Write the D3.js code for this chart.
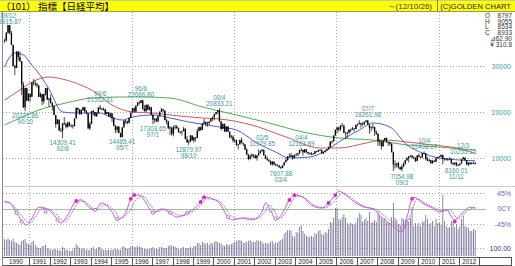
<!DOCTYPE html>
<html>
<head>
<meta charset="utf-8">
<script src="https://cdn.jsdelivr.net/npm/d3@7"></script>
<style>
body { margin: 0; background: #fff; }
svg { display: block; }
text { font-family: "Liberation Sans", Arial, sans-serif; }
</style>
</head>
<body>
<svg width="515" height="266"></svg>
<script>
// monthly candles, first one is 1989/10, last one 2012/10 (to 12/10/26)
var firstMonth = "1989/10";

var opens = [
  35637, 35549, 37269,
  38916, 37189, 34592, 29980, 29585, 33131, 31940, 31036, 25978, 20984, 25194, 22455,
  23849, 23293, 26409, 26292, 26111, 25790, 23291, 23901, 22335, 23916, 25222, 22688,
  22984, 22023, 21339, 19346, 17391, 18348, 15952, 15910, 17555, 17399, 16767, 17683,
  16925, 17024, 16953, 18591, 20919, 20552, 19590, 20380, 21027, 20106, 19703, 16408,
  17417, 20229, 19997, 19112, 19725, 20974, 20644, 20462, 20629, 19563, 19990, 19076,
  19723, 18650, 17054, 16140, 16807, 15437, 14517, 16678, 18117, 17913, 17655, 18744,
  19868, 20813, 20125, 21407, 22041, 21956, 22531, 20693, 20167, 21556, 20467, 21020,
  19361, 18330, 18557, 18003, 19151, 20069, 20605, 20331, 18229, 17888, 16459, 16636,
  15259, 16628, 16831, 16527, 15641, 15671, 15830, 16379, 14108, 13406, 13565, 14883,
  13842, 14499, 14368, 15837, 16702, 16112, 17530, 17862, 17437, 17606, 17942, 18558,
  18934, 19540, 19960, 20337, 17974, 16332, 17411, 15728, 16861, 15747, 14540, 14649,
  13786, 13844, 12884, 12999, 13934, 13262, 12969, 11861, 10714, 9775, 10367, 10697,
  10543, 9998, 10588, 11025, 11493, 11764, 10622, 9877, 9619, 9383, 8640, 9216,
  8579, 8340, 8363, 7973, 7831, 8425, 9083, 9563, 10344, 10219, 10560, 10101,
  10677, 10784, 11042, 11715, 11762, 11236, 11859, 11326, 11082, 10824, 10771, 10899,
  11489, 11388, 11741, 11669, 11009, 11277, 11584, 11900, 12414, 13574, 13607, 14872,
  16111, 16650, 16205, 17060, 16907, 15467, 15505, 15457, 16141, 16128, 16399, 16274,
  17226, 17383, 17604, 17288, 17400, 17876, 18138, 17249, 16569, 16786, 16738, 15681,
  15308, 13592, 13603, 12526, 13850, 14339, 13482, 13377, 13073, 11260, 8577, 8512,
  8860, 7994, 7568, 8110, 8828, 9523, 9958, 10357, 10493, 10133, 10035, 9346,
  10546, 10198, 10126, 11090, 11057, 9769, 9383, 9537, 8824, 9369, 9202, 9937,
  10229, 10238, 10624, 9755, 9850, 9694, 9816, 9833, 8955, 8700, 8988, 8435,
  8455, 8803, 9723, 10084, 9521, 8543, 9007, 8695, 8840, 8797
];
var highs = [
  35950, 37270, 38916,
  38712, 37600, 34600, 30250, 33190, 33190, 33170, 31030, 26560, 25200, 25300, 24120,
  24070, 26410, 27150, 26800, 26280, 25800, 24300, 23900, 24000, 25222, 25300, 23000,
  23800, 22100, 21300, 19400, 18500, 18300, 16600, 17560, 18900, 17700, 17880, 17900,
  17400, 17300, 18600, 20919, 20900, 20600, 20600, 21148, 21100, 20400, 19800, 17900,
  20230, 20500, 20000, 19900, 21000, 21553, 20900, 21000, 20600, 20100, 20000, 19800,
  19700, 18900, 17100, 16900, 17000, 15500, 16700, 18200, 18300, 18100, 18750, 19870,
  20900, 21000, 21410, 22200, 22400, 22667, 22600, 21500, 21600, 21700, 21300, 21100,
  19500, 18600, 18700, 19200, 20100, 20900, 20600, 20300, 18500, 18100, 17000, 16700,
  17100, 17200, 17200, 16600, 15900, 15900, 16800, 16400, 14800, 13900, 15000, 14900,
  14500, 14500, 16400, 16800, 16800, 17600, 18500, 17900, 17900, 17950, 18600, 18950,
  19600, 20000, 20400, 20833, 18000, 17500, 17500, 16900, 16900, 15800, 15000, 14900,
  14100, 14000, 13100, 14000, 14500, 13300, 13000, 12100, 10800, 10800, 11000, 10800,
  10800, 10600, 11900, 11700, 11980, 11800, 10700, 10300, 9700, 9400, 9300, 9200,
  8800, 8700, 8500, 8200, 8500, 9100, 10000, 10400, 11000, 11100, 10600, 10700,
  11000, 11100, 11800, 12164, 11800, 11900, 11900, 11300, 11200, 11300, 11100, 11500,
  11500, 11750, 11950, 11900, 11300, 11600, 11900, 12500, 13600, 13800, 14900, 16200,
  16700, 16800, 17100, 17560, 17300, 15600, 15700, 16200, 16400, 16800, 16500, 17226,
  17500, 18200, 17600, 17800, 17900, 18240, 18262, 17300, 16800, 17400, 16800, 16000,
  15300, 14100, 13600, 13900, 14400, 14490, 13600, 13400, 13200, 11400, 9500, 8900,
  9200, 8100, 8600, 9000, 9600, 10200, 10400, 10700, 10600, 10400, 10100, 10600,
  10980, 10400, 11100, 11408, 11000, 10250, 9800, 9600, 9600, 9600, 10100, 10300,
  10500, 10860, 10700, 9850, 10000, 9900, 10140, 9900, 9000, 9050, 9150, 8700,
  8800, 9720, 10255, 10100, 9500, 9010, 9100, 9130, 9230, 9055
];
var lows = [
  34970, 35300, 37000,
  36900, 34590, 29980, 28002, 29600, 31200, 30840, 23740, 20984, 20222, 22455, 22300,
  22230, 23300, 25800, 25600, 25300, 23290, 23100, 21460, 21800, 23600, 22600, 21120,
  21830, 20340, 19346, 16600, 17300, 15950, 15600, 14309, 17200, 16400, 16600, 16900,
  16650, 16400, 16900, 18600, 19900, 19400, 19400, 20200, 19900, 19500, 16400, 16078,
  17400, 19300, 19000, 18900, 19700, 20600, 20400, 20300, 19500, 19500, 19000, 18800,
  17800, 16950, 15400, 15500, 15400, 14500, 14485, 16600, 17400, 17300, 17500, 18700,
  19800, 19900, 19900, 21300, 21600, 21900, 20500, 20100, 20000, 20400, 20300, 19300,
  17304, 17600, 17800, 17700, 19000, 20000, 19900, 18200, 17300, 16300, 15000, 14800,
  14700, 16200, 16300, 15500, 15300, 14900, 15800, 14100, 13300, 12880, 13500, 13800,
  13300, 13600, 14300, 15800, 15900, 16100, 17400, 16900, 16800, 17200, 17900, 18100,
  18200, 19400, 19600, 17900, 16000, 16300, 15700, 15700, 15700, 14300, 14200, 13400,
  13300, 12600, 11820, 12900, 13200, 12600, 11700, 10700, 9500, 9700, 10200, 10000,
  9900, 9420, 10500, 11000, 11400, 10500, 9800, 9400, 9100, 8440, 8300, 8500,
  8300, 8300, 7900, 7608, 7800, 8400, 9100, 9400, 10200, 10200, 9600, 9900,
  10400, 10400, 10900, 11500, 10500, 11100, 11000, 10700, 10800, 10700, 10700, 10900,
  11200, 11300, 11600, 10900, 10850, 11200, 11500, 11800, 12200, 13100, 13600, 14900,
  15300, 15700, 15900, 16700, 15400, 14219, 14400, 15300, 15600, 16100, 15700, 16300,
  16900, 17300, 16600, 17000, 17100, 17700, 17200, 15270, 15800, 16300, 14800, 15000,
  12570, 12700, 11790, 12500, 13600, 13400, 12700, 12600, 11260, 7162, 7700, 7900,
  7700, 7400, 7055, 8000, 8500, 9400, 9050, 10200, 9900, 9700, 9100, 9300,
  10200, 9870, 10100, 10900, 9500, 9380, 9200, 8820, 8800, 9100, 9100, 9900,
  10200, 10200, 8605, 9400, 9450, 9350, 9800, 8620, 8360, 8380, 8160, 8300,
  8380, 8800, 9700, 9440, 8540, 8290, 8490, 8600, 8750, 8534
];
var closes = [
  35549, 37269, 38916,
  37189, 34592, 29980, 29585, 33131, 31940, 31036, 25978, 20984, 25194, 22455, 23849,
  23293, 26409, 26292, 26111, 25790, 23291, 23901, 22335, 23916, 25222, 22688, 22984,
  22023, 21339, 19346, 17391, 18348, 15952, 15910, 17555, 17399, 16767, 17683, 16925,
  17024, 16953, 18591, 20919, 20552, 19590, 20380, 21027, 20106, 19703, 16408, 17417,
  20229, 19997, 19112, 19725, 20974, 20644, 20462, 20629, 19563, 19990, 19076, 19723,
  18650, 17054, 16140, 16807, 15437, 14517, 16678, 18117, 17913, 17655, 18744, 19868,
  20813, 20125, 21407, 22041, 21956, 22531, 20693, 20167, 21556, 20467, 21020, 19361,
  18330, 18557, 18003, 19151, 20069, 20605, 20331, 18229, 17888, 16459, 16636, 15259,
  16628, 16831, 16527, 15641, 15671, 15830, 16379, 14108, 13406, 13565, 14883, 13842,
  14499, 14368, 15837, 16702, 16112, 17530, 17862, 17437, 17606, 17942, 18558, 18934,
  19540, 19960, 20337, 17974, 16332, 17411, 15728, 16861, 15747, 14540, 14649, 13786,
  13844, 12884, 12999, 13934, 13262, 12969, 11861, 10714, 9775, 10367, 10697, 10543,
  9998, 10588, 11025, 11493, 11764, 10622, 9877, 9619, 9383, 8640, 9216, 8579,
  8340, 8363, 7973, 7831, 8425, 9083, 9563, 10344, 10219, 10560, 10101, 10677,
  10784, 11042, 11715, 11762, 11236, 11859, 11326, 11082, 10824, 10771, 10899, 11489,
  11388, 11741, 11669, 11009, 11277, 11584, 11900, 12414, 13574, 13607, 14872, 16111,
  16650, 16205, 17060, 16907, 15467, 15505, 15457, 16141, 16128, 16399, 16274, 17226,
  17383, 17604, 17288, 17400, 17876, 18138, 17249, 16569, 16786, 16738, 15681, 15308,
  13592, 13603, 12526, 13850, 14339, 13482, 13377, 13073, 11260, 8577, 8512, 8860,
  7994, 7568, 8110, 8828, 9523, 9958, 10357, 10493, 10133, 10035, 9346, 10546,
  10198, 10126, 11090, 11057, 9769, 9383, 9537, 8824, 9369, 9202, 9937, 10229,
  10238, 10624, 9755, 9850, 9694, 9816, 9833, 8955, 8700, 8988, 8435, 8455,
  8803, 9723, 10084, 9521, 8543, 9007, 8695, 8840, 8870, 8933
];
// bar heights of the bottom panel, same months
var volumes = [
  170, 160, 180,
  160, 150, 175, 140, 130, 120, 110, 150, 160, 170, 130, 120,
  110, 140, 150, 110, 90, 80, 80, 100, 100, 110, 80, 70,
  60, 60, 70, 70, 60, 60, 50, 90, 80, 60, 60, 50,
  50, 60, 80, 120, 100, 80, 70, 80, 70, 60, 60, 60,
  80, 90, 70, 70, 90, 90, 70, 60, 60, 60, 60, 60,
  60, 70, 70, 70, 60, 60, 90, 100, 80, 70, 80, 100,
  100, 90, 90, 100, 90, 90, 80, 70, 70, 70, 70, 80,
  90, 70, 80, 70, 90, 90, 80, 80, 80, 100, 110, 100,
  100, 90, 80, 70, 70, 80, 90, 80, 80, 80, 90, 70,
  100, 100, 130, 130, 110, 140, 130, 120, 130, 110, 130, 120,
  140, 150, 140, 130, 120, 110, 100, 120, 110, 110, 120, 130,
  140, 150, 160, 160, 150, 130, 130, 140, 150, 160, 140, 140,
  140, 160, 150, 150, 140, 120, 130, 130, 120, 140, 150, 120,
  140, 130, 150, 160, 170, 220, 240, 260, 260, 250, 200, 190,
  240, 230, 290, 310, 250, 220, 200, 190, 190, 200, 190, 230,
  220, 250, 260, 220, 210, 240, 230, 270, 340, 330, 380, 480,
  480, 370, 360, 390, 420, 380, 330, 310, 330, 320, 310, 330,
  380, 430, 410, 340, 360, 380, 350, 440, 330, 340, 360, 340,
  440, 400, 380, 360, 380, 340, 330, 330, 390, 530, 380, 360,
  320, 310, 380, 370, 360, 370, 340, 380, 490, 300, 330, 300,
  330, 300, 340, 350, 410, 370, 320, 330, 350, 300, 370, 330,
  330, 310, 610, 350, 300, 280, 290, 350, 330, 290, 320, 270,
  300, 370, 400, 300, 290, 280, 250, 250, 270, 260
];

// moving averages
var maShortDates = ["1989/10","1990/01","1990/04","1990/09","1991/02","1991/08","1991/12","1992/08","1993/04","1994/06","1994/12","1995/07","1996/01","1997/01","1997/11","1998/10","2000/04","2001/02","2002/02","2003/01","2003/09","2004/09","2005/07","2006/02","2007/02","2007/10","2008/08","2009/06","2010/03","2011/01","2012/10"];
var maShort = [29800, 31960, 32830, 32390, 30220, 27390, 25000, 20000, 19780, 19780, 18910, 18260, 18910, 19350, 18700, 17830, 16740, 16090, 13260, 11300, 10000, 10220, 11740, 13480, 16090, 17610, 16740, 12830, 11090, 10000, 9400];
var maMidDates = ["1989/10","1990/07","1991/02","1991/12","1992/10","1993/08","1994/01","1995/01","1996/01","1997/01","1997/11","1999/06","2000/04","2001/11","2003/07","2005/03","2006/02","2007/06","2008/04","2009/06","2010/09","2011/11","2012/10"];
var maMid = [22600, 24780, 26520, 27610, 26960, 25650, 24780, 21520, 20000, 19780, 19350, 18700, 18480, 17170, 14570, 12170, 12170, 13260, 13910, 13480, 12830, 12170, 11000];
var maLongDates = ["1989/10","1990/07","1991/06","1992/10","1994/01","1995/05","1996/07","1997/11","1999/06","2001/02","2002/09","2004/05","2006/02","2007/10","2009/06","2011/01","2012/10"];
var maLong = [17170, 18700, 20430, 21960, 23040, 23260, 23260, 23040, 21090, 19350, 17610, 15650, 14350, 13910, 12830, 12390, 11700];

// oscillator (%)
var oscDates = ["1989/10","1990/01","1990/05","1990/11","1991/02","1991/06","1991/10","1992/03","1992/07","1992/11","1993/04","1993/07","1993/12","1994/03","1994/07","1995/01","1995/04","1995/09","1995/12","1996/02","1996/05","1996/09","1997/01","1997/06","1997/11","1998/03","1998/09","1999/02","1999/05","1999/07","1999/12","2000/04","2000/09","2000/12","2001/05","2001/11","2002/05","2002/07","2002/10","2003/01","2003/05","2003/09","2003/12","2004/05","2004/10","2005/04","2005/08","2005/12","2006/02","2006/06","2006/12","2007/05","2007/10","2008/03","2008/09","2009/03","2009/06","2009/09","2009/10","2010/03","2010/09","2011/01","2011/05","2011/10","2012/03","2012/07","2012/10"];
var oscMain = [19, 16, -13, -48, -28, 4, 1, -19, -42, -19, 22, 25, 1, -4, 16, -10, -33, -13, 28, 39, 39, 16, -13, -1, -13, -25, -13, 4, 19, 33, 28, 16, -25, -33, -28, -33, -10, 16, -4, -33, -13, 25, 39, 33, 10, 1, 16, 39, 51, 39, 16, 4, -1, -25, -48, -68, -25, 28, 33, 16, 1, -10, -4, -33, -10, 4, 1];
var sigDates = ["1989/10","1990/02","1990/07","1991/01","1991/04","1991/08","1991/12","1992/05","1992/09","1993/01","1993/06","1993/09","1994/02","1994/05","1994/09","1995/03","1995/06","1995/11","1996/03","1996/07","1996/11","1997/03","1997/08","1998/01","1998/06","1998/11","1999/04","1999/09","2000/02","2000/06","2000/11","2001/02","2001/07","2002/01","2002/07","2002/09","2002/12","2003/03","2003/07","2003/11","2004/02","2004/07","2004/12","2005/06","2005/10","2006/02","2006/04","2006/08","2007/02","2007/07","2007/12","2008/05","2008/11","2009/04","2009/08","2009/12","2010/05","2010/11","2011/03","2011/07","2011/12","2012/05","2012/10"];
var oscSignal = [22, 14, -15, -42, -25, 0, -2, -20, -38, -16, 20, 20, 0, -2, 12, -10, -28, -10, 25, 36, 14, -10, -2, -12, -22, -12, 4, 28, 25, 12, -22, -30, -27, -30, -8, 10, -4, -30, -10, 24, 36, 28, 8, 2, 14, 36, 46, 36, 14, 3, -3, -22, -45, -60, -20, 28, 14, 0, -8, -4, -30, -8, 3];
var buyDates = ["1993/04","1995/12","1996/02","1999/05","1999/07","2003/09","2003/12","2005/08","2005/12","2009/09","2011/10"];
var buyValues = [22, 28, 39, 19, 33, 25, 39, 16, 39, 28, -38];
var sellDates = ["1990/05","1990/08","1991/10","1992/05","1994/03","1995/04","1997/01","1997/11","1998/09","2000/09","2002/10","2003/01"];
var sellValues = [-13, -38, -10, -33, -4, -30, -13, -13, -13, -25, -6, -30];

// peak / trough notes
var noteDates = ["1989/12","1990/10","1992/08","1994/06","1995/07","1996/06","1997/01","1998/10","2000/04","2002/05","2003/04","2004/04","2007/07","2009/03","2010/04","2011/11","2012/03"];
var noteValues = [38915.87, 20221.86, 14309.41, 21552.81, 14485.41, 22666.80, 17303.65, 12879.97, 20833.21, 11979.85, 7607.88, 12163.89, 18261.98, 7054.98, 11408.17, 8160.01, 10255.15];
var noteKinds = ["H","L","L","H","L","H","L","L","H","H","L","H","H","L","H","L","H"];

var priceTicks = [10000, 20000, 30000];
var gridYears = [1991, 1996, 2001, 2006, 2011];
var years = d3.range(1990, 2013);

var svg = d3.select("svg");

function monthIndex(s) {
  var p = s.split("/");
  return (+p[0] - 1990) * 12 + (+p[1] - 1);
}
var m0 = monthIndex(firstMonth);

var x = d3.scaleLinear().domain([-4, 276]).range([2.9, 480.3]);
var y = d3.scaleLinear().domain([0, 40000]).range([204, 20]);
var yo = d3.scaleLinear().domain([-45, 45]).range([224, 193]);
var yv = d3.scaleLinear().domain([0, 600]).range([256, 196]);
function edge(m) { return x(m) - 0.85; }

var candles = closes.map(function(c, i) {
  return {m: m0 + i, o: opens[i], h: highs[i], l: lows[i], c: c, v: volumes[i]};
});

// title bar
svg.append("rect").attr("x", 0).attr("y", 0).attr("width", 515).attr("height", 11.5).attr("fill", "#ffff00");
svg.append("line").attr("x1", 0).attr("x2", 515).attr("y1", 11.5).attr("y2", 11.5).attr("stroke", "#9a9a5a");
svg.append("line").attr("x1", 0).attr("x2", 515).attr("y1", 0.5).attr("y2", 0.5).attr("stroke", "#c8c8a0");
svg.append("line").attr("x1", 437.5).attr("x2", 437.5).attr("y1", 0).attr("y2", 11.5).attr("stroke", "#777");
svg.append("text").attr("x", 1).attr("y", 9.5)
  .style("font-family", "'Noto Sans CJK JP', sans-serif").style("font-size", "9.5px")
  .text("（101） 指標【日経平均】");
svg.append("text").attr("x", 432).attr("y", 9).attr("text-anchor", "end")
  .style("font-size", "8px").attr("fill", "#333")
  .text("～(12/10/26)");
svg.append("text").attr("x", 511).attr("y", 9).attr("text-anchor", "end")
  .style("font-size", "7.6px").attr("fill", "#222")
  .text("(C)GOLDEN CHART");

// frame
svg.append("line").attr("x1", 2.5).attr("x2", 2.5).attr("y1", 11.5).attr("y2", 266).attr("stroke", "#888");
svg.append("line").attr("x1", 2.5).attr("x2", 515).attr("y1", 186.5).attr("y2", 186.5).attr("stroke", "#ccc");

// grid
var grid = svg.append("g").attr("stroke", "#aaa").attr("stroke-dasharray", "1,2");
grid.selectAll(".gy").data(priceTicks).enter().append("line")
  .attr("x1", 3).attr("x2", 486)
  .attr("y1", function(d) { return Math.round(y(d)) + 0.5; })
  .attr("y2", function(d) { return Math.round(y(d)) + 0.5; });
grid.selectAll(".gx").data(gridYears).enter().append("line")
  .attr("x1", function(d) { return Math.round(edge((d - 1990) * 12)) + 0.5; })
  .attr("x2", function(d) { return Math.round(edge((d - 1990) * 12)) + 0.5; })
  .attr("y1", 12).attr("y2", 257);
grid.selectAll(".go").data([45, -45]).enter().append("line")
  .attr("x1", 3).attr("x2", 486)
  .attr("y1", function(d) { return Math.round(yo(d)) + 0.5; })
  .attr("y2", function(d) { return Math.round(yo(d)) + 0.5; });
grid.append("line").attr("x1", 3).attr("x2", 486).attr("y1", 248.5).attr("y2", 248.5);
svg.append("line").attr("x1", 3).attr("x2", 486)
  .attr("y1", Math.round(yo(0)) + 0.5).attr("y2", Math.round(yo(0)) + 0.5)
  .attr("stroke", "#9cc49c");

// right labels
svg.selectAll(".pt").data(priceTicks).enter().append("text")
  .attr("x", 511).attr("y", function(d) { return y(d) + 2.5; })
  .attr("text-anchor", "end").style("font-size", "7px").attr("fill", "#3a9fa8")
  .text(function(d) { return d; });
var oscLabels = [[45, "45%"], [0, "0CY"], [-45, "-45%"]];
svg.selectAll(".ot").data(oscLabels).enter().append("text")
  .attr("x", 511).attr("y", function(d) { return yo(d[0]) + 2.5; })
  .attr("text-anchor", "end").style("font-size", "7px").attr("fill", "#6a5fc8")
  .text(function(d) { return d[1]; });
svg.append("text").attr("x", 511).attr("y", 251).attr("text-anchor", "end")
  .style("font-size", "7px").attr("fill", "#343470").text("100.00");

// info box
var last = candles[candles.length - 1];
var info = [["O", last.o], ["H", last.h], ["L", last.l], ["C", last.c]];
svg.selectAll(".il").data(info).enter().append("text")
  .attr("x", 485).attr("y", function(d, i) { return 18 + i * 5.7; })
  .style("font-size", "6.5px").attr("fill", "#333").text(function(d) { return d[0]; });
svg.selectAll(".iv").data(info).enter().append("text")
  .attr("x", 512).attr("y", function(d, i) { return 18 + i * 5.7; })
  .attr("text-anchor", "end").style("font-size", "6.5px").attr("fill", "#333")
  .text(function(d) { return d[1]; });
svg.append("text").attr("x", 512).attr("y", 18 + 4 * 5.7).attr("text-anchor", "end")
  .style("font-size", "6.5px").attr("fill", "#333").text("⊿62.90");
svg.append("text").attr("x", 512).attr("y", 18 + 5 * 5.7).attr("text-anchor", "end")
  .style("font-size", "6.5px").attr("fill", "#333").text("¥ 310.8");

// volume bars
svg.append("g").selectAll("rect").data(candles).enter().append("rect")
  .attr("x", function(d) { return x(d.m) - 0.4; })
  .attr("width", 0.8)
  .attr("y", function(d) { return yv(d.v); })
  .attr("height", function(d) { return yv(0) - yv(d.v); })
  .attr("fill", "#6e6e94");

// moving averages
function maLine(dates, vals, color) {
  var pts = dates.map(function(d, i) { return [monthIndex(d), vals[i]]; });
  svg.append("path").datum(pts)
    .attr("fill", "none").attr("stroke", color).attr("stroke-width", 0.9)
    .attr("d", d3.line().curve(d3.curveMonotoneX)
      .x(function(p) { return x(p[0]); })
      .y(function(p) { return y(p[1]); }));
}
maLine(maLongDates, maLong, "#3f9f3f");
maLine(maMidDates, maMid, "#c04848");
maLine(maShortDates, maShort, "#3c4ccc");

// candles
var cg = svg.append("g");
cg.selectAll("line").data(candles).enter().append("line")
  .attr("x1", function(d) { return x(d.m); })
  .attr("x2", function(d) { return x(d.m); })
  .attr("y1", function(d) { return y(d.h); })
  .attr("y2", function(d) { return y(d.l); })
  .attr("stroke", "#000").attr("stroke-width", 0.7);
cg.selectAll("rect").data(candles).enter().append("rect")
  .attr("x", function(d) { return x(d.m) - 0.65; })
  .attr("width", 1.3)
  .attr("y", function(d) { return y(Math.max(d.o, d.c)); })
  .attr("height", function(d) { return Math.max(0.7, Math.abs(y(d.o) - y(d.c))); })
  .attr("fill", "#000");

// notes
var notes = noteDates.map(function(d, i) { return {m: monthIndex(d), d: d.slice(2).replace("/0", "/"), v: noteValues[i], k: noteKinds[i]}; });
var ng = svg.append("g").attr("fill", "#3a9a9a").style("font-size", "6.3px").attr("text-anchor", "middle");
notes.forEach(function(n) {
  var yy = y(n.v);
  if (n.k === "H") {
    var top = Math.max(yy, 26);
    ng.append("text").attr("x", x(n.m)).attr("y", top - 8.5).text(n.d);
    ng.append("text").attr("x", x(n.m)).attr("y", top - 2.5).text(d3.format(".2f")(n.v));
  } else {
    ng.append("text").attr("x", x(n.m)).attr("y", yy + 7).text(d3.format(".2f")(n.v));
    ng.append("text").attr("x", x(n.m)).attr("y", yy + 13).text(n.d);
  }
});

// oscillator
function oscLine(dates, vals, color, dash) {
  var pts = dates.map(function(d, i) { return [monthIndex(d), vals[i]]; });
  svg.append("path").datum(pts)
    .attr("fill", "none").attr("stroke", color).attr("stroke-width", 0.9)
    .attr("stroke-dasharray", dash)
    .attr("d", d3.line().curve(d3.curveMonotoneX)
      .x(function(p) { return x(p[0]); })
      .y(function(p) { return yo(p[1]); }));
}
oscLine(sigDates, oscSignal, "#8a6ad8", "2,1");
oscLine(oscDates, oscMain, "#cc44cc", null);
svg.append("g").selectAll("circle").data(sellDates).enter().append("circle")
  .attr("cx", function(d) { return x(monthIndex(d)); })
  .attr("cy", function(d, i) { return yo(sellValues[i]); })
  .attr("r", 1.5).attr("fill", "#fff").attr("stroke", "#b050c8").attr("stroke-width", 0.8);
svg.append("g").selectAll("circle").data(buyDates).enter().append("circle")
  .attr("cx", function(d) { return x(monthIndex(d)); })
  .attr("cy", function(d, i) { return yo(buyValues[i]); })
  .attr("r", 1.9).attr("fill", "#e020c8");

// year axis
var ax = svg.append("g");
ax.append("line").attr("x1", 2.5).attr("x2", 512).attr("y1", 257.5).attr("y2", 257.5).attr("stroke", "#555");
ax.append("line").attr("x1", 2.5).attr("x2", 512).attr("y1", 265.5).attr("y2", 265.5).attr("stroke", "#555");
ax.selectAll(".yt").data(d3.range(1991, 2014)).enter().append("line")
  .attr("x1", function(d) { return Math.round(edge((d - 1990) * 12)) + 0.5; })
  .attr("x2", function(d) { return Math.round(edge((d - 1990) * 12)) + 0.5; })
  .attr("y1", 257.5).attr("y2", 266).attr("stroke", "#555");
ax.append("line").attr("x1", 511.5).attr("x2", 511.5).attr("y1", 257.5).attr("y2", 266).attr("stroke", "#555");
ax.selectAll("text").data(years).enter().append("text")
  .attr("x", function(d) {
    var a = d === 1990 ? 2.5 : edge((d - 1990) * 12);
    return (a + edge((d - 1989) * 12)) / 2;
  })
  .attr("y", 264).attr("text-anchor", "middle")
  .style("font-size", "6.3px").attr("fill", "#222")
  .text(function(d) { return d; });
</script>
</body>
</html>
